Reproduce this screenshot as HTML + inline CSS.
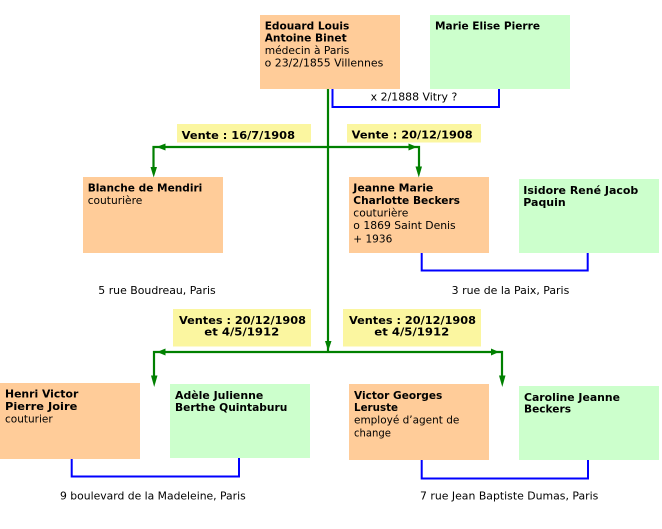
<!DOCTYPE html>
<html><head><meta charset="utf-8"><style>
html,body{margin:0;padding:0;background:#fff;}
svg{display:block;}
text{font-family:"DejaVu Sans","Liberation Sans",sans-serif;font-size:10.8px;fill:#000;}
.b{font-weight:bold;}
</style></head><body>
<svg width="662" height="529" viewBox="0 0 662 529" xmlns="http://www.w3.org/2000/svg">
<!-- boxes -->
<rect x="260" y="15" width="140" height="74" fill="#FFCC99"/>
<rect x="430" y="15" width="140" height="74" fill="#CCFFCC"/>
<rect x="83" y="177" width="140" height="76" fill="#FFCC99"/>
<rect x="349" y="177" width="140" height="76" fill="#FFCC99"/>
<rect x="519" y="179" width="140" height="74" fill="#CCFFCC"/>
<rect x="0" y="383" width="140" height="76" fill="#FFCC99"/>
<rect x="170" y="384" width="140" height="74" fill="#CCFFCC"/>
<rect x="349" y="384" width="140" height="76" fill="#FFCC99"/>
<rect x="519" y="386" width="140" height="74" fill="#CCFFCC"/>
<!-- yellow labels -->
<rect x="177" y="124" width="134" height="18.5" fill="#FBF6A0"/>
<rect x="347" y="124" width="134" height="18.5" fill="#FBF6A0"/>
<rect x="173" y="309" width="138" height="37.5" fill="#FBF6A0"/>
<rect x="343" y="309" width="138" height="37.5" fill="#FBF6A0"/>

<!-- blue connectors -->
<g fill="none" stroke="#0000FF" stroke-width="2">
<polyline points="332.5,89 332.5,107 499,107 499,89"/>
<polyline points="421.7,253 421.7,270.5 587.7,270.5 587.7,253"/>
<polyline points="71.7,459 71.7,476.5 239,476.5 239,458"/>
<polyline points="421.7,460 421.7,478.5 588,478.5 588,460"/>
</g>

<!-- green connectors -->
<g fill="none" stroke="#008000" stroke-width="2.2">
<line x1="328" y1="89" x2="328" y2="352"/>
<polyline points="328,147 153.5,147 153.5,170"/>
<polyline points="328,147 419,147 419,170"/>
<polyline points="328,352 154,352 154,378"/>
<polyline points="328,352 502,352 502,378"/>
</g>
<g fill="#008000">
<!-- top left -->
<polygon points="156.5,147 165.5,143.5 165.5,150.5"/>
<polygon points="150.5,167 157,167 153.7,177.5"/>
<!-- top right -->
<polygon points="417,147 408.5,143.5 408.5,150.5"/>
<polygon points="415.5,166.5 422,166.5 418.8,177.5"/>
<!-- main down arrow -->
<polygon points="325,341 331.5,341 328.2,351"/>
<!-- bottom left -->
<polygon points="157,352 165.5,348.5 165.5,355.5"/>
<polygon points="151,375.5 157.5,375.5 154.2,387"/>
<!-- bottom right -->
<polygon points="499,352 491,348.5 491,355.5"/>
<polygon points="499,375.5 505.5,375.5 502.3,387"/>
</g>

<!-- texts: top -->
<text class="b" x="264.7" y="29.3" textLength="84.6" lengthAdjust="spacingAndGlyphs">Edouard Louis</text>
<text class="b" x="264.7" y="41.7" textLength="82" lengthAdjust="spacingAndGlyphs">Antoine Binet</text>
<text x="264.7" y="54.2" textLength="84.6" lengthAdjust="spacingAndGlyphs">médecin à Paris</text>
<text x="264.7" y="66.6" textLength="118.6" lengthAdjust="spacingAndGlyphs">o 23/2/1855 Villennes</text>
<text class="b" x="435" y="29.3" textLength="105" lengthAdjust="spacingAndGlyphs">Marie Elise Pierre</text>
<text x="370.7" y="100.7" textLength="86.6" lengthAdjust="spacingAndGlyphs">x 2/1888 Vitry ?</text>

<!-- labels -->
<text class="b" x="181.7" y="139" textLength="113.3" lengthAdjust="spacingAndGlyphs">Vente : 16/7/1908</text>
<text class="b" x="351.7" y="138.5" textLength="121" lengthAdjust="spacingAndGlyphs">Vente : 20/12/1908</text>
<text class="b" x="179" y="324" textLength="127" lengthAdjust="spacingAndGlyphs">Ventes : 20/12/1908</text>
<text class="b" x="204.3" y="335.7" textLength="75" lengthAdjust="spacingAndGlyphs">et 4/5/1912</text>
<text class="b" x="349" y="324" textLength="127" lengthAdjust="spacingAndGlyphs">Ventes : 20/12/1908</text>
<text class="b" x="374.3" y="335.7" textLength="75" lengthAdjust="spacingAndGlyphs">et 4/5/1912</text>

<!-- middle row -->
<text class="b" x="87.7" y="191.7" textLength="114.6" lengthAdjust="spacingAndGlyphs">Blanche de Mendiri</text>
<text x="87.7" y="203.9" textLength="54.6" lengthAdjust="spacingAndGlyphs">couturière</text>
<text x="98.3" y="294" textLength="117.4" lengthAdjust="spacingAndGlyphs">5 rue Boudreau, Paris</text>

<text class="b" x="353.3" y="191.7" textLength="80" lengthAdjust="spacingAndGlyphs">Jeanne Marie</text>
<text class="b" x="353.3" y="204" textLength="106.7" lengthAdjust="spacingAndGlyphs">Charlotte Beckers</text>
<text x="353.3" y="216.6" textLength="55" lengthAdjust="spacingAndGlyphs">couturière</text>
<text x="353.3" y="229" textLength="102.4" lengthAdjust="spacingAndGlyphs">o 1869 Saint Denis</text>
<text x="353.3" y="242.3" textLength="39" lengthAdjust="spacingAndGlyphs">+ 1936</text>
<text class="b" x="523.3" y="194" textLength="115" lengthAdjust="spacingAndGlyphs">Isidore René Jacob</text>
<text class="b" x="523.3" y="206" textLength="42.4" lengthAdjust="spacingAndGlyphs">Paquin</text>
<text x="451.7" y="294" textLength="117.6" lengthAdjust="spacingAndGlyphs">3 rue de la Paix, Paris</text>

<!-- bottom row -->
<text class="b" x="5" y="397.7" textLength="73.3" lengthAdjust="spacingAndGlyphs">Henri Victor</text>
<text class="b" x="5" y="410" textLength="72.3" lengthAdjust="spacingAndGlyphs">Pierre Joire</text>
<text x="5" y="422.5" textLength="47.7" lengthAdjust="spacingAndGlyphs">couturier</text>
<text class="b" x="175" y="399" textLength="88.3" lengthAdjust="spacingAndGlyphs">Adèle Julienne</text>
<text class="b" x="175" y="411" textLength="112.3" lengthAdjust="spacingAndGlyphs">Berthe Quintaburu</text>
<text x="60" y="499.3" textLength="185.7" lengthAdjust="spacingAndGlyphs">9 boulevard de la Madeleine, Paris</text>

<text class="b" x="354" y="399" textLength="88.3" lengthAdjust="spacingAndGlyphs">Victor Georges</text>
<text class="b" x="354" y="411" textLength="44" lengthAdjust="spacingAndGlyphs">Leruste</text>
<text x="354" y="423.3" textLength="105.3" lengthAdjust="spacingAndGlyphs">employé d’agent de</text>
<text x="354" y="436.5" textLength="37" lengthAdjust="spacingAndGlyphs">change</text>
<text class="b" x="524" y="401" textLength="96" lengthAdjust="spacingAndGlyphs">Caroline Jeanne</text>
<text class="b" x="524" y="412.7" textLength="47" lengthAdjust="spacingAndGlyphs">Beckers</text>
<text x="420" y="499.3" textLength="178.3" lengthAdjust="spacingAndGlyphs">7 rue Jean Baptiste Dumas, Paris</text>
</svg>
</body></html>
